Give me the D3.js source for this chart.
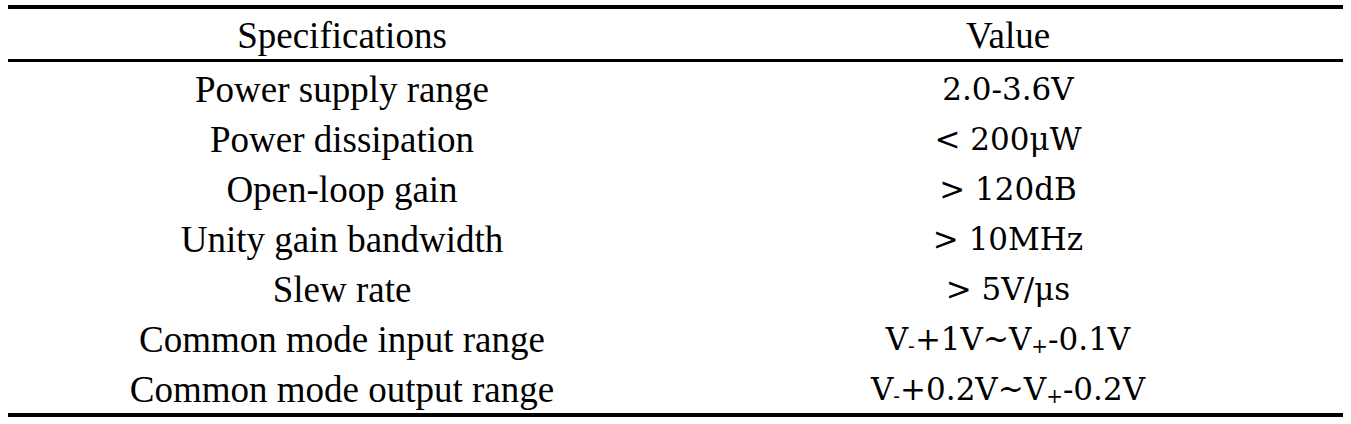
<!DOCTYPE html>
<html><head><meta charset="utf-8">
<script src="https://cdn.jsdelivr.net/npm/d3@7"></script>
<style>body{margin:0;background:#fff}</style>
</head><body>
<svg id="t" width="1351" height="424"></svg>
<script>
const headers = ['Specifications', 'Value'];
const specs = ['Power supply range', 'Power dissipation', 'Open-loop gain', 'Unity gain bandwidth',
  'Slew rate', 'Common mode input range', 'Common mode output range'];
// values as [text, subscript?] pieces
const values = [
  [['2.0-3.6V']], [['< 200μW']], [['> 120dB']], [['> 10MHz']], [['> 5V/μs']],
  [['V'], ['-', 1], ['+1V~V'], ['+', 1], ['-0.1V']],
  [['V'], ['-', 1], ['+0.2V~V'], ['+', 1], ['-0.2V']]
];

const svg = d3.select('#t');
const x0 = 8, x1 = 1343;
const colX = [342, 1008];
const y = d3.scaleBand().domain(d3.range(specs.length)).range([64, 414]);

// rules
svg.append('rect').attr('x', x0).attr('y', 5).attr('width', x1 - x0).attr('height', 4);
svg.append('rect').attr('x', x0).attr('y', 59).attr('width', x1 - x0).attr('height', 3);
svg.append('rect').attr('x', x0).attr('y', 413).attr('width', x1 - x0).attr('height', 4);

const font = '"Liberation Serif", "DejaVu Serif", serif';
svg.selectAll('text.h').data(headers).join('text')
  .attr('x', (d, i) => colX[i]).attr('y', 35).attr('dy', '0.35em')
  .attr('text-anchor', 'middle').style('font-family', font).style('font-size', '37px')
  .text(d => d);

svg.selectAll('text.s').data(specs).join('text')
  .attr('x', colX[0]).attr('y', (d, i) => y(i) + y.bandwidth() / 2).attr('dy', '0.35em')
  .attr('text-anchor', 'middle').style('font-family', font).style('font-size', '37px')
  .text(d => d);

const vt = svg.selectAll('text.v').data(values).join('text')
  .attr('x', colX[1]).attr('y', (d, i) => y(i) + y.bandwidth() / 2).attr('dy', '0.35em')
  .attr('text-anchor', 'middle').style('font-family', 'Georgia, "DejaVu Serif", serif').style('font-size', '31px');
vt.each(function(parts) {
  const t = d3.select(this);
  parts.forEach(p => {
    const s = t.append('tspan').text(p[0]);
    if (p[1]) s.style('font-size', '20px').attr('baseline-shift', '-15%');
  });
});
</script>
</body></html>
